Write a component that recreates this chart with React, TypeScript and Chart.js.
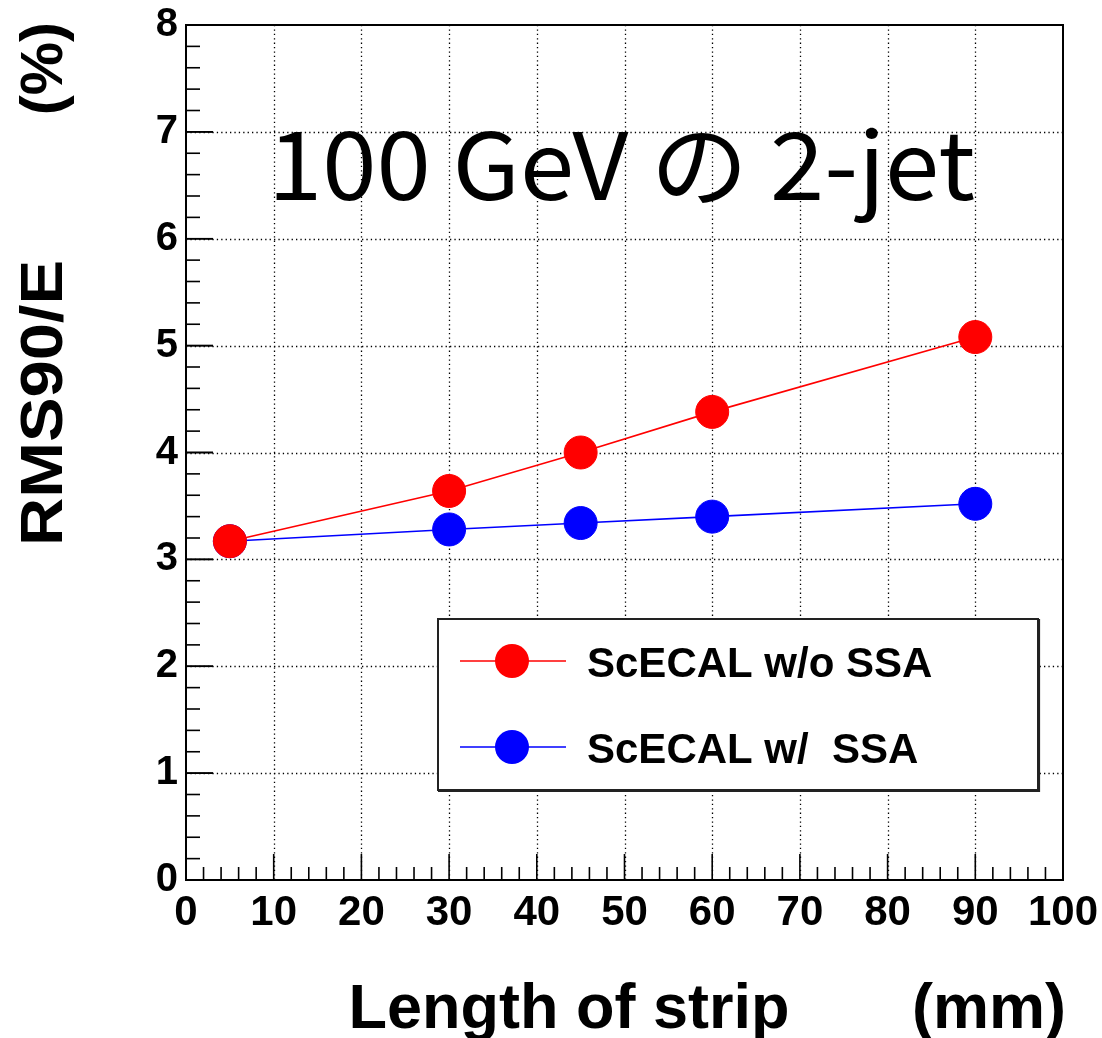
import React, { useEffect, useRef } from "react";
import { Chart, registerables } from "chart.js";

Chart.register(...registerables);

// ---- data ----
const stripLength = [5, 30, 45, 60, 90];
const rmsWithoutSSA = [3.17, 3.64, 4.0, 4.38, 5.08];
const rmsWithSSA = [3.17, 3.28, 3.34, 3.4, 3.52];
const seriesLabels = ["ScECAL w/o SSA", "ScECAL w/  SSA"];
const seriesColors = ["#ff0000", "#0000ff"];
const xMajorTicks = [0, 10, 20, 30, 40, 50, 60, 70, 80, 90, 100];
const yMajorTicks = [0, 1, 2, 3, 4, 5, 6, 7, 8];
const xMinorDivisions = 5;
const yMinorDivisions = 5;
const chartTitle = "100 GeV の 2-jet";
const xTitle = "Length of strip       (mm)";
const yTitle = "RMS90/E";
const yUnit = "(%)";

const SANS = "'Liberation Sans', Arial, Helvetica, sans-serif";

const rootFramePlugin = {
  id: "rootFrame",
  beforeDatasetsDraw(chart: any) {
    const { ctx, chartArea } = chart;
    const { left, right, top, bottom } = chartArea;
    const xs = chart.scales.x;
    const ys = chart.scales.y;
    ctx.save();
    // dotted grid at major ticks
    ctx.strokeStyle = "#000";
    ctx.lineWidth = 1.3;
    ctx.setLineDash([1.3, 3.1]);
    xMajorTicks.forEach((v) => {
      const px = Math.round(xs.getPixelForValue(v)) + 0.5;
      if (px <= left + 2 || px >= right - 2) return;
      ctx.beginPath();
      ctx.moveTo(px, top);
      ctx.lineTo(px, bottom);
      ctx.stroke();
    });
    yMajorTicks.forEach((v) => {
      const py = Math.round(ys.getPixelForValue(v)) + 0.5;
      if (py <= top + 2 || py >= bottom - 2) return;
      ctx.beginPath();
      ctx.moveTo(left, py);
      ctx.lineTo(right, py);
      ctx.stroke();
    });
    ctx.setLineDash([]);
    // tick marks (inside, left & bottom only)
    ctx.lineWidth = 1.6;
    for (let i = 0; i < xMajorTicks.length - 1; i++) {
      const a = xMajorTicks[i];
      const b = xMajorTicks[i + 1];
      for (let k = 0; k <= xMinorDivisions; k++) {
        if (k === xMinorDivisions && i < xMajorTicks.length - 2) continue;
        const v = a + ((b - a) * k) / xMinorDivisions;
        const major = k === 0 || k === xMinorDivisions;
        const px = xs.getPixelForValue(v);
        const len = major ? 26 : 13;
        ctx.beginPath();
        ctx.moveTo(px, bottom);
        ctx.lineTo(px, bottom - len);
        ctx.stroke();
      }
    }
    for (let i = 0; i < yMajorTicks.length - 1; i++) {
      const a = yMajorTicks[i];
      const b = yMajorTicks[i + 1];
      for (let k = 0; k <= yMinorDivisions; k++) {
        const v = a + ((b - a) * k) / yMinorDivisions;
        const major = k === 0 || k === yMinorDivisions;
        const py = ys.getPixelForValue(v);
        const len = major ? 27 : 14;
        ctx.beginPath();
        ctx.moveTo(left, py);
        ctx.lineTo(left + len, py);
        ctx.stroke();
      }
    }
    // frame
    ctx.lineWidth = 2;
    ctx.strokeRect(left, top, right - left, bottom - top);
    ctx.restore();
  },
  afterDatasetsDraw(chart: any) {
    const { ctx, chartArea } = chart;
    ctx.save();
    // ---- legend box ----
    const bx = 438, by = 619, bw = 600, bh = 171;
    ctx.fillStyle = "#fff";
    ctx.fillRect(bx, by, bw, bh);
    ctx.strokeStyle = "#222";
    ctx.lineWidth = 2;
    ctx.strokeRect(bx, by, bw, bh);
    ctx.lineWidth = 1.2;
    ctx.beginPath();
    ctx.moveTo(bx + bw + 1.5, by);
    ctx.lineTo(bx + bw + 1.5, by + bh + 1.5);
    ctx.lineTo(bx, by + bh + 1.5);
    ctx.stroke();
    const rows = [661, 747];
    chart.data.datasets.forEach((ds: any, i: number) => {
      const cy = rows[i];
      ctx.strokeStyle = ds.borderColor;
      ctx.lineWidth = 1.6;
      ctx.beginPath();
      ctx.moveTo(460, cy);
      ctx.lineTo(566, cy);
      ctx.stroke();
      ctx.fillStyle = ds.pointBackgroundColor;
      ctx.beginPath();
      ctx.arc(512, cy, 17, 0, Math.PI * 2);
      ctx.fill();
      ctx.fillStyle = "#000";
      ctx.font = `bold 42px ${SANS}`;
      ctx.textAlign = "left";
      ctx.textBaseline = "alphabetic";
      ctx.fillText(ds.label, 587, cy + 15.5);
    });

    // ---- in-plot title ----
    ctx.fillStyle = "#000";
    ctx.font = `400 93px 'Noto Sans CJK JP', sans-serif`;
    ctx.textAlign = "left";
    ctx.textBaseline = "alphabetic";
    const tw = ctx.measureText(chartTitle).width;
    ctx.save();
    ctx.translate(268, 200);
    ctx.scale(707 / tw, 1);
    ctx.fillText(chartTitle, 0, 0);
    ctx.restore();

    // ---- axis titles ----
    ctx.font = `bold 63px ${SANS}`;
    ctx.textAlign = "right";
    ctx.fillText(xTitle, chartArea.right + 3, 1028);

    ctx.font = `bold 60px ${SANS}`;
    ctx.save();
    ctx.translate(62, 0);
    ctx.rotate(-Math.PI / 2);
    ctx.textAlign = "right";
    ctx.fillText(yUnit, -22, 0);
    const yw = ctx.measureText(yTitle).width;
    ctx.textAlign = "left";
    ctx.translate(-546, 0);
    ctx.scale(286 / yw, 1);
    ctx.fillText(yTitle, 0, 0);
    ctx.restore();

    ctx.restore();
  },
};

export default function App() {
  const ref = useRef<HTMLCanvasElement | null>(null);
  useEffect(() => {
    document.body.style.margin = "0";
    const canvas = ref.current;
    if (!canvas) return;
    const makeData = (ys: number[]) => stripLength.map((x, i) => ({ x, y: ys[i] }));
    const datasets = [rmsWithoutSSA, rmsWithSSA].map((vals, i) => ({
      label: seriesLabels[i],
      data: makeData(vals),
      borderColor: seriesColors[i],
      backgroundColor: seriesColors[i],
      pointBackgroundColor: seriesColors[i],
      pointBorderColor: seriesColors[i],
      pointRadius: 16.5,
      pointBorderWidth: 1,
      pointHoverRadius: 16.5,
      borderWidth: 1.6,
      tension: 0,
      fill: false,
    }));
    const chart = new Chart(canvas, {
      type: "line",
      data: { datasets },
      options: {
        animation: false,
        responsive: false,
        devicePixelRatio: 1,
        layout: { padding: { top: 25, right: 39, left: 0, bottom: 0 } },
        plugins: {
          legend: { display: false },
          tooltip: { enabled: false },
          title: { display: false },
        },
        scales: {
          x: {
            type: "linear",
            min: 0,
            max: 100,
            afterBuildTicks: (s: any) => {
              s.ticks = xMajorTicks.map((v) => ({ value: v }));
            },
            afterFit: (s: any) => {
              s.height = 158;
              s.paddingLeft = 0;
              s.paddingRight = 0;
            },
            grid: { display: false, drawTicks: false },
            border: { display: false },
            ticks: {
              autoSkip: false,
              maxRotation: 0,
              padding: 8,
              color: "#000",
              font: { family: SANS, weight: "bold", size: 42 },
            },
          },
          y: {
            type: "linear",
            min: 0,
            max: 8,
            afterBuildTicks: (s: any) => {
              s.ticks = yMajorTicks.map((v) => ({ value: v }));
            },
            afterFit: (s: any) => {
              s.width = 186;
              s.paddingTop = 0;
              s.paddingBottom = 0;
            },
            grid: { display: false, drawTicks: false },
            border: { display: false },
            ticks: {
              autoSkip: false,
              padding: 8,
              color: "#000",
              font: { family: SANS, weight: "bold", size: 40 },
            },
          },
        },
      },
      plugins: [rootFramePlugin],
    } as any);
    return () => chart.destroy();
  }, []);
  return (
    <div style={{ position: "absolute", left: 0, top: 0, width: 1102, height: 1038, background: "#fff" }}>
      <canvas ref={ref} width={1102} height={1038} style={{ width: 1102, height: 1038, display: "block" }} />
    </div>
  );
}
